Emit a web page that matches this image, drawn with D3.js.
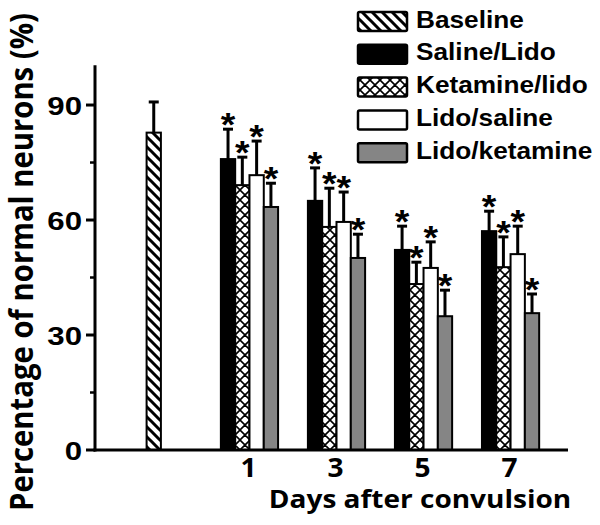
<!DOCTYPE html>
<html><head><meta charset="utf-8">
<script src="https://cdn.jsdelivr.net/npm/d3@7"></script>
<style>body{margin:0;background:#fff}svg{display:block}</style>
</head><body>
<svg id="c" width="600" height="525"></svg>
<script>
// ---- data ----
const days = [1, 3, 5, 7];
const seriesNames = ["Saline/Lido", "Ketamine/lido", "Lido/saline", "Lido/ketamine"];
const salineLido   = [75.9, 65.0, 52.2, 57.1];
const salineLidoSD = [7.8, 8.6, 6.2, 5.2];
const ketLido      = [69.1, 58.2, 43.3, 47.7];
const ketLidoSD    = [7.3, 10.1, 5.7, 7.9];
const lidoSaline   = [71.7, 59.5, 47.5, 51.1];
const lidoSalineSD = [8.9, 7.8, 6.8, 7.3];
const lidoKet      = [63.4, 50.1, 34.9, 35.7];
const lidoKetSD    = [6.2, 6.2, 6.8, 5.0];
const baselineValue = 82.8;
const baselineSD = 8.0;
const yTicks = [0, 30, 60, 90];
const yMinorTicks = [15, 45, 75];
const legendNames = ["Baseline", "Saline/Lido", "Ketamine/lido", "Lido/saline", "Lido/ketamine"];

const values = [salineLido, ketLido, lidoSaline, lidoKet];
const sds = [salineLidoSD, ketLidoSD, lidoSalineSD, lidoKetSD];

// ---- layout ----
const svg = d3.select("#c");
const x = d3.scaleLinear().domain([-2.55, 8.32]).range([95, 568]);
const y = d3.scaleLinear().domain([0, 100]).range([450, 66.7]);
const baselinePos = -1.2;
const barW = 14.3;
const fills = ["#000", "url(#cross)", "#fff", "#858585"];

const defs = svg.append("defs");
const h = defs.append("pattern").attr("id", "hatch").attr("patternUnits", "userSpaceOnUse")
  .attr("width", 10).attr("height", 10);
h.append("rect").attr("width", 10).attr("height", 10).attr("fill", "#fff");
h.append("path").attr("d", "M0,0L10,10M-5,5L5,15M5,-5L15,5").attr("stroke", "#000").attr("stroke-width", 3);
const cr = defs.append("pattern").attr("id", "cross").attr("patternUnits", "userSpaceOnUse")
  .attr("width", 10).attr("height", 10);
cr.append("rect").attr("width", 10).attr("height", 10).attr("fill", "#fff");
cr.append("path").attr("d", "M0,0L10,10M-5,5L5,15M5,-5L15,5M10,0L0,10M-5,5L5,-5M5,15L15,5")
  .attr("stroke", "#000").attr("stroke-width", 1.6);

const boldSans = "'Liberation Sans', Arial, sans-serif";
const openSans = "'Open Sans', 'DejaVu Sans', sans-serif";

function stretchedText(g, tx, ty, sx, txt, font, size, anchor) {
  return g.append("text").attr("transform", `translate(${tx},${ty}) scale(${sx},1)`)
    .attr("text-anchor", anchor).attr("font-family", font).attr("font-weight", "bold")
    .attr("font-size", size).attr("fill", "#000").text(txt);
}

// bars
const gBars = svg.append("g");
function drawBar(cx, v, sd, fill) {
  const top = y(v);
  gBars.append("line").attr("x1", cx).attr("x2", cx).attr("y1", top).attr("y2", y(v + sd))
    .attr("stroke", "#000").attr("stroke-width", 3);
  gBars.append("line").attr("x1", cx - 5).attr("x2", cx + 5).attr("y1", y(v + sd)).attr("y2", y(v + sd))
    .attr("stroke", "#000").attr("stroke-width", 3);
  gBars.append("rect").attr("x", cx - barW / 2).attr("y", top).attr("width", barW)
    .attr("height", y(0) - top).attr("fill", fill).attr("stroke", "#000").attr("stroke-width", 2);
}
drawBar(x(baselinePos), baselineValue, baselineSD, "url(#hatch)");
days.forEach((d, i) => {
  const c = x(d);
  values.forEach((arr, s) => {
    const cx = c + (s - 1.5) * barW;
    drawBar(cx, arr[i], sds[s][i], fills[s]);
    const ytop = y(arr[i] + sds[s][i]);
    gBars.append("text").attr("transform", `translate(${cx},${ytop + 7}) scale(1.1,1)`)
      .attr("text-anchor", "middle").attr("font-family", boldSans).attr("font-weight", "bold")
      .attr("font-size", 34).text("*");
  });
});

// axes
const gAx = svg.append("g");
gAx.append("line").attr("x1", 95).attr("x2", 95).attr("y1", y(0) + 1.5).attr("y2", y(100.4))
  .attr("stroke", "#000").attr("stroke-width", 3);
gAx.append("line").attr("x1", 93.5).attr("x2", x(8.32)).attr("y1", y(0)).attr("y2", y(0))
  .attr("stroke", "#000").attr("stroke-width", 3);
yTicks.forEach(t => {
  gAx.append("line").attr("x1", 86).attr("x2", 95).attr("y1", y(t)).attr("y2", y(t))
    .attr("stroke", "#000").attr("stroke-width", 3);
  stretchedText(gAx, 82, y(t) + 9.5, 1.2, String(t), boldSans, 26, "end");
});
yMinorTicks.forEach(t => {
  gAx.append("line").attr("x1", 90).attr("x2", 95).attr("y1", y(t)).attr("y2", y(t))
    .attr("stroke", "#000").attr("stroke-width", 2.5);
});
days.forEach(d => {
  stretchedText(gAx, x(d) - 1, 477, 1.08, String(d), openSans, 26, "middle");
});
stretchedText(gAx, 420, 508, 1.12, "Days after convulsion", openSans, 25, "middle");
svg.append("text").attr("transform", "translate(33,262) scale(1.2,1) rotate(-90)")
  .attr("text-anchor", "middle").attr("font-family", openSans).attr("font-weight", "bold")
  .attr("font-size", 26.5).attr("textLength", 498).attr("lengthAdjust", "spacingAndGlyphs")
  .text("Percentage of normal neurons (%)");

// legend
const legFills = ["url(#hatch)", "#000", "url(#cross)", "#fff", "#858585"];
const gLeg = svg.append("g");
legendNames.forEach((n, i) => {
  const yy = 12 + i * 32.8;
  gLeg.append("rect").attr("x", 358).attr("y", yy).attr("width", 49).attr("height", 19)
    .attr("rx", 1.5).attr("fill", legFills[i]).attr("stroke", "#000").attr("stroke-width", 2.5);
  stretchedText(gLeg, 416, yy + 15.5, 1.14, n, boldSans, 23, "start");
});
</script>
</body></html>
